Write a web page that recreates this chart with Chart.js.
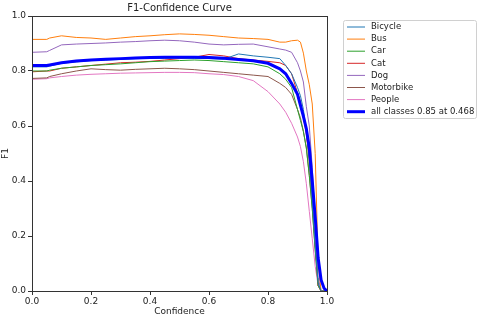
<!DOCTYPE html>
<html>
<head>
<meta charset="utf-8">
<script src="https://cdn.jsdelivr.net/npm/chart.js@4/dist/chart.umd.min.js"></script>
<style>
  html, body { margin: 0; padding: 0; background: #fff; }
  #wrap { width: 480px; height: 318px; }
</style>
</head>
<body>
<div id="wrap"><canvas id="f1Chart" width="480" height="318"></canvas></div>
<script>
'use strict';

// confidence grid (x) shared by every curve
const confidence = [0, 0.05, 0.06, 0.1, 0.15, 0.2, 0.25, 0.3, 0.35, 0.4, 0.45, 0.5, 0.55, 0.6, 0.65, 0.7, 0.75, 0.8,
    0.84, 0.86, 0.88, 0.9, 0.91, 0.92, 0.93, 0.94, 0.95, 0.96, 0.97, 0.98, 0.99, 1.0];

const bicycle = [0.815, 0.815, 0.818, 0.828, 0.833, 0.838, 0.84, 0.842, 0.845, 0.846, 0.846, 0.847, 0.846, 0.845, 0.843, 0.862, 0.855, 0.85,
    0.845, 0.82, 0.79, 0.74, 0.71, 0.66, 0.58, 0.48, 0.33, 0.17, 0.03, 0, 0, 0];
const bus = [0.915, 0.915, 0.92, 0.928, 0.922, 0.92, 0.915, 0.92, 0.925, 0.928, 0.932, 0.935, 0.933, 0.93, 0.925, 0.92, 0.918, 0.915,
    0.905, 0.905, 0.91, 0.912, 0.905, 0.865, 0.80, 0.75, 0.68, 0.50, 0.10, 0, 0, 0];
const car = [0.80, 0.80, 0.803, 0.81, 0.815, 0.82, 0.823, 0.826, 0.83, 0.834, 0.836, 0.838, 0.84, 0.838, 0.834, 0.83, 0.826, 0.815,
    0.79, 0.77, 0.74, 0.66, 0.62, 0.58, 0.52, 0.42, 0.30, 0.15, 0.02, 0, 0, 0];
const cat = [0.797, 0.80, 0.80, 0.81, 0.815, 0.82, 0.825, 0.83, 0.832, 0.835, 0.84, 0.845, 0.85, 0.86, 0.855, 0.845, 0.84, 0.835,
    0.83, 0.82, 0.79, 0.72, 0.69, 0.63, 0.57, 0.47, 0.33, 0.17, 0.02, 0, 0, 0];
const dog = [0.868, 0.87, 0.875, 0.895, 0.898, 0.90, 0.902, 0.905, 0.907, 0.91, 0.912, 0.91, 0.905, 0.898, 0.895, 0.897, 0.898, 0.888,
    0.88, 0.876, 0.868, 0.83, 0.80, 0.76, 0.67, 0.60, 0.45, 0.25, 0.05, 0, 0, 0];
const motorbike = [0.773, 0.775, 0.78, 0.79, 0.80, 0.808, 0.805, 0.803, 0.806, 0.808, 0.81, 0.808, 0.805, 0.80, 0.795, 0.79, 0.785, 0.78,
    0.755, 0.74, 0.715, 0.66, 0.63, 0.58, 0.52, 0.42, 0.30, 0.15, 0.02, 0, 0, 0];
const people = [0.77, 0.772, 0.775, 0.78, 0.785, 0.788, 0.79, 0.792, 0.793, 0.794, 0.795, 0.795, 0.794, 0.79, 0.787, 0.78, 0.765, 0.725,
    0.68, 0.65, 0.61, 0.56, 0.525, 0.47, 0.39, 0.29, 0.19, 0.09, 0.02, 0, 0, 0];
const allClasses = [0.82, 0.82, 0.822, 0.83, 0.836, 0.84, 0.843, 0.845, 0.847, 0.849, 0.85, 0.85, 0.85, 0.849, 0.846, 0.842, 0.837, 0.828,
    0.808, 0.79, 0.755, 0.715, 0.675, 0.635, 0.59, 0.52, 0.40, 0.27, 0.12, 0.04, 0.01, 0];

const classNames = ['Bicycle', 'Bus', 'Car', 'Cat', 'Dog', 'Motorbike', 'People'];
const classValues = [bicycle, bus, car, cat, dog, motorbike, people];
const classColors = ['#1f77b4', '#ff7f0e', '#2ca02c', '#d62728', '#9467bd', '#8c564b', '#e377c2'];
const allLabel = 'all classes 0.85 at 0.468';
const tickValues = [0, 0.2, 0.4, 0.6, 0.8, 1.0];

const FONT = 'DejaVu Sans';

function toPoints(ys) {
    return ys.map((y, i) => ({ x: confidence[i], y: y }));
}

const datasets = classNames.map((name, i) => ({
    label: name,
    data: toPoints(classValues[i]),
    borderColor: classColors[i],
    borderWidth: 1,
    order: 1 + i
}));
datasets.push({
    label: allLabel,
    data: toPoints(allClasses),
    borderColor: '#0000ff',
    borderWidth: 3,
    order: 0
});

// frame, title and boxed legend like matplotlib
const mplDecor = {
    id: 'mplDecor',
    afterDatasetsDraw(chart) {
        const ctx = chart.ctx;
        const a = chart.chartArea;
        ctx.save();
        ctx.strokeStyle = '#333';
        ctx.lineWidth = 1;
        ctx.strokeRect(Math.round(a.left) + 0.5, Math.round(a.top) + 0.5,
            Math.round(a.right - a.left), Math.round(a.bottom - a.top));
        ctx.restore();
    },
    afterDraw(chart) {
        const ctx = chart.ctx;
        const a = chart.chartArea;
        ctx.save();
        ctx.fillStyle = '#222';
        ctx.font = '10px "' + FONT + '"';
        ctx.textAlign = 'center';
        ctx.textBaseline = 'middle';
        ctx.fillText('F1-Confidence Curve', (a.left + a.right) / 2, 8);

        // legend
        const bx = 343.5, by = 20.5, bw = 133, bh = 98;
        ctx.strokeStyle = '#d0d0d0';
        ctx.lineWidth = 1;
        ctx.beginPath();
        ctx.roundRect(bx, by, bw, bh, 2);
        ctx.stroke();
        ctx.font = '8.5px "' + FONT + '"';
        ctx.textAlign = 'left';
        const names = classNames.concat([allLabel]);
        const colors = classColors.concat(['#0000ff']);
        names.forEach((n, i) => {
            const y = 27 + i * 12.1;
            ctx.strokeStyle = colors[i];
            ctx.lineWidth = i === names.length - 1 ? 3 : 1;
            ctx.beginPath();
            ctx.moveTo(347, y);
            ctx.lineTo(365, y);
            ctx.stroke();
            ctx.fillStyle = '#222';
            ctx.fillText(n, 371, y);
        });
        ctx.restore();
    }
};

const ctx = document.getElementById('f1Chart').getContext('2d');
new Chart(ctx, {
    type: 'line',
    data: { datasets: datasets },
    options: {
        responsive: false,
        animation: false,
        parsing: true,
        layout: { padding: { left: 0, top: 16, right: 153, bottom: 0 } },
        elements: {
            point: { radius: 0 },
            line: { tension: 0, fill: false }
        },
        plugins: {
            legend: { display: false },
            tooltip: { enabled: false }
        },
        scales: {
            x: {
                type: 'linear',
                min: 0,
                max: 1,
                afterFit: s => { s.height = 27; },
                afterBuildTicks: s => { s.ticks = tickValues.map(v => ({ value: v })); },
                grid: { display: true, drawOnChartArea: false, drawTicks: true, tickLength: 4, color: '#333' },
                border: { display: false },
                ticks: {
                    padding: 1,
                    color: '#222',
                    font: { family: FONT, size: 9 },
                    callback: v => v.toFixed(1)
                },
                title: {
                    display: true,
                    text: 'Confidence',
                    color: '#222',
                    font: { family: FONT, size: 9 },
                    padding: { top: 0, bottom: 1 }
                }
            },
            y: {
                type: 'linear',
                min: 0,
                max: 1,
                afterFit: s => { s.width = 32; },
                afterBuildTicks: s => { s.ticks = tickValues.map(v => ({ value: v })); },
                grid: { display: true, drawOnChartArea: false, drawTicks: true, tickLength: 4, color: '#333' },
                border: { display: false },
                ticks: {
                    padding: 2,
                    color: '#222',
                    font: { family: FONT, size: 9 },
                    callback: v => v.toFixed(1)
                },
                title: {
                    display: true,
                    text: 'F1',
                    color: '#222',
                    font: { family: FONT, size: 9 },
                    padding: 0
                }
            }
        }
    },
    plugins: [mplDecor]
});
</script>
</body>
</html>
